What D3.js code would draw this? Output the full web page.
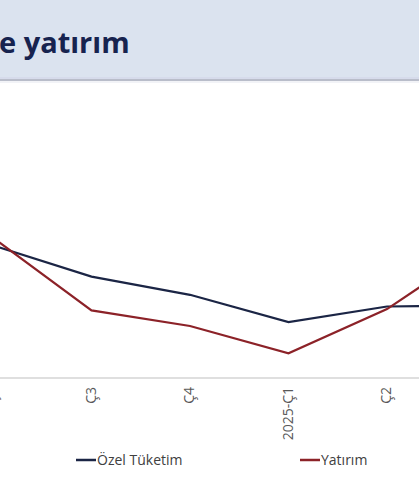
<!DOCTYPE html>
<html>
<head>
<meta charset="utf-8">
<script src="https://cdn.jsdelivr.net/npm/d3@7"></script>
<style>
  html, body { margin: 0; padding: 0; background: #fff; }
  svg { display: block; }
</style>
</head>
<body>
<svg id="chart"></svg>
<script>
// data (quarterly growth)
var quarters = ["Ç2", "Ç3", "Ç4", "2025-Ç1", "Ç2", "Ç3"];
var ozelTuketim = [5.1, 3.9, 3.2, 2.15, 2.75, 2.8];
var yatirim = [5.4, 2.6, 2.0, 0.95, 2.65, 5.2];
var seriesNames = ["Özel Tüketim", "Yatırım"];
var seriesColors = ["#1b2545", "#8c2228"];

var width = 419, height = 503;

var svg = d3.select('#chart').attr('width', width).attr('height', height);

// ****************************************
// Header band

svg.append('rect').attr('x', 0).attr('y', 0).attr('width', width).attr('height', 77).attr('fill', '#dbe3ef');
svg.append('rect').attr('x', 0).attr('y', 77).attr('width', width).attr('height', 2).attr('fill', '#d6dbeb');
svg.append('rect').attr('x', 0).attr('y', 79).attr('width', width).attr('height', 2).attr('fill', '#b9bdca');
svg.append('rect').attr('x', 0).attr('y', 81).attr('width', width).attr('height', 2).attr('fill', '#f2f3f7');

svg.append('text')
  .attr('x', -1).attr('y', 53)
  .attr('font-family', 'Open Sans, sans-serif').attr('font-weight', 700).attr('font-size', 29)
  .attr('fill', '#17234f')
  .text('e yatırım');

// ****************************************
// Scales

var x = d3.scaleLinear().domain([0, quarters.length - 1]).range([-7, -7 + 98.5 * (quarters.length - 1)]);
var y = d3.scaleLinear().domain([0, 10]).range([378, 118]);

// baseline
svg.append('line').attr('x1', 0).attr('x2', width).attr('y1', 378).attr('y2', 378)
  .attr('stroke', '#d4d4d4').attr('stroke-width', 1.5);

// x axis labels (rotated)
var xAxis = d3.axisBottom(x)
  .tickValues(d3.range(quarters.length))
  .tickFormat(function(i){ return quarters[i]; })
  .tickSize(0);

var gx = svg.append('g').attr('transform', 'translate(0,378)').call(xAxis);
gx.select('.domain').remove();
gx.selectAll('text')
  .attr('font-family', 'Open Sans, sans-serif').attr('font-size', 14).attr('fill', '#595959')
  .attr('transform', 'rotate(-90)')
  .attr('text-anchor', 'end')
  .attr('x', -9).attr('y', -1).attr('dy', '0.35em');

// ****************************************
// Lines

var line = d3.line().x(function(d, i){ return x(i); }).y(function(d){ return y(d); });

[ozelTuketim, yatirim].forEach(function(values, k){
  svg.append('path').datum(values)
    .attr('d', line)
    .attr('fill', 'none')
    .attr('stroke', seriesColors[k])
    .attr('stroke-width', 2.2)
    .attr('stroke-linejoin', 'miter');
});

// ****************************************
// Legend

var legendX = [76, 300];
seriesNames.forEach(function(name, k){
  var g = svg.append('g').attr('transform', 'translate(' + legendX[k] + ',460)');
  g.append('line').attr('x1', 0).attr('x2', 20).attr('y1', 0).attr('y2', 0)
    .attr('stroke', seriesColors[k]).attr('stroke-width', 2.5);
  g.append('text').attr('x', 21).attr('y', 0).attr('dy', '0.35em')
    .attr('font-family', 'Open Sans, sans-serif').attr('font-size', 14).attr('fill', '#404040')
    .text(name);
});
</script>
</body>
</html>
